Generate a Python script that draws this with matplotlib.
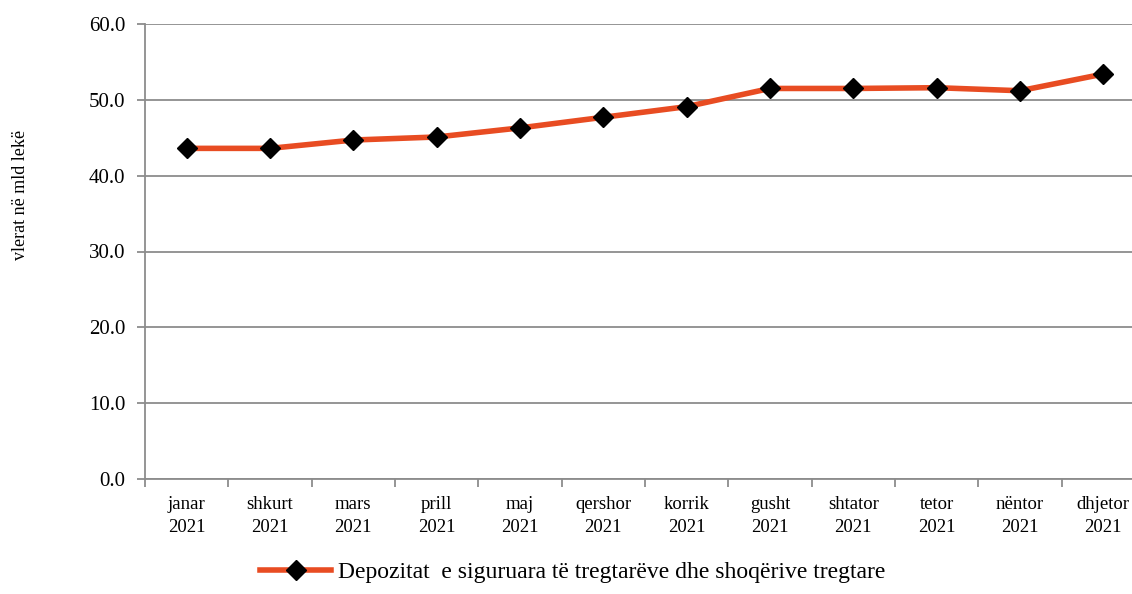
import matplotlib
matplotlib.use('Agg')
import matplotlib.pyplot as plt
import numpy as np

months = ['janar', 'shkurt', 'mars', 'prill', 'maj', 'qershor',
          'korrik', 'gusht', 'shtator', 'tetor', 'nëntor', 'dhjetor']
year = '2021'
values = [43.6, 43.6, 44.7, 45.1, 46.3, 47.7, 49.1, 51.5, 51.5, 51.6, 51.2, 53.4]
series_name = 'Depozitat  e siguruara të tregtarëve dhe shoqërive tregtare'
y_label = 'vlerat në mld lekë'

plt.rcParams['font.family'] = ['Liberation Serif', 'DejaVu Serif']

fig = plt.figure(figsize=(11.32, 5.94), dpi=100)
# plot area runs slightly past the right edge, as in the reference crop
ax = fig.add_axes([145 / 1132, 115 / 594, 1000 / 1132, 455 / 594])

x = np.arange(len(months))
ax.plot(x, values, color='#E84C22', lw=4, marker='D', markersize=10,
        markerfacecolor='black', markeredgecolor='black', label=series_name,
        zorder=3, clip_on=False)

ax.set_xlim(-0.5, len(months) - 0.5)
ax.set_ylim(0, 60)
ax.set_yticks(np.arange(0, 61, 10))
ax.set_yticklabels([f'{v:.1f}' for v in np.arange(0, 61, 10)], fontsize=15)
ax.yaxis.grid(True, color='#8c8c8c', lw=1.3)
ax.set_axisbelow(True)

ax.set_xticks(np.arange(-0.5, len(months), 1))
ax.set_xticklabels([])
ax.set_xticks(x, minor=True)
ax.set_xticklabels([f'{m}\n{year}' for m in months], minor=True, fontsize=13.5,
                   linespacing=1.5)
ax.tick_params(axis='x', which='minor', length=0, pad=12)
ax.tick_params(axis='x', which='major', length=6, color='#8c8c8c', width=1.3)
ax.tick_params(axis='y', length=6, color='#8c8c8c', width=1.3, pad=8)

for s in ['top', 'right']:
    ax.spines[s].set_visible(False)
for s in ['left', 'bottom']:
    ax.spines[s].set_color('#8c8c8c')
    ax.spines[s].set_linewidth(1.3)

fig.text(0.018, (594 - 195) / 594, y_label, rotation=90, ha='center',
         va='center', fontsize=13)

fig.legend(loc='center', bbox_to_anchor=(0.506, 22 / 594), frameon=False,
           fontsize=17, handlelength=3.0, handletextpad=0.3)

fig.savefig('out.png', dpi=100)
